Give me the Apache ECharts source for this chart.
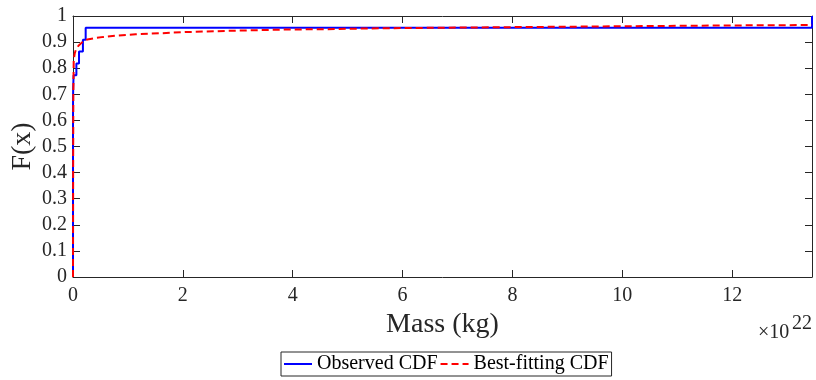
<!DOCTYPE html>
<html>
<head>
<meta charset="utf-8">
<script src="https://cdn.jsdelivr.net/npm/echarts@6/dist/echarts.min.js"></script>
<style>
  html, body { margin: 0; padding: 0; background: #fff; }
  #chart { width: 816px; height: 380px; }
</style>
</head>
<body>
<div id="chart"></div>
<script>
// Observed masses, in units of 1e22 kg (22 bodies)
const observedMass = [
  0.0000001, 0.0000005, 0.0000008, 0.000002, 0.000004, 0.0000007,
  0.0000066, 0.000011, 0.000014, 0.000016, 0.000053, 0.00019,
  0.00056, 0.00083, 0.00375, 0.0000495,
  0.0108, 0.0617, 0.1095, 0.1806, 0.2306, 13.452
];

// Best-fitting CDF, sampled along the mass axis (units of 1e22 kg)
const fittedMass = [0, 0.003, 0.006, 0.013, 0.03, 0.049, 0.1, 0.17, 0.26, 0.41, 0.56,
  0.8, 1.14, 1.6, 2.05, 2.96, 3.87, 4.78, 5.57, 6.7, 7.77, 8.7, 9.59, 10.8, 12.0, 13.452];
const fittedF = [0, 0.45, 0.7, 0.83, 0.855, 0.869, 0.886, 0.900, 0.910, 0.916, 0.920,
  0.925, 0.930, 0.934, 0.9385, 0.9438, 0.948, 0.950, 0.953, 0.955, 0.957, 0.9585, 0.960, 0.962, 0.9638, 0.9655];

const xTicks = [0, 2, 4, 6, 8, 10, 12];
const yTicks = [0, 0.1, 0.2, 0.3, 0.4, 0.5, 0.6, 0.7, 0.8, 0.9, 1];

const seriesNames = ['Observed CDF', 'Best-fitting CDF'];

// Empirical CDF staircase points from the sorted sample
const sorted = observedMass.slice().sort((a, b) => a - b);
const n = sorted.length;
const ecdf = [[sorted[0], 0]];
sorted.forEach((m, i) => ecdf.push([m, (i + 1) / n]));

const fitted = fittedMass.map((m, i) => [m, fittedF[i]]);
const xMax = sorted[n - 1];

const axisColor = '#262626';
const serif = 'Liberation Serif';

const chart = echarts.init(document.getElementById('chart'), null, { renderer: 'canvas' });

const xBase = {
  type: 'value', min: 0, max: xMax, interval: 2,
  axisLine: { show: true, onZero: false, lineStyle: { color: axisColor, width: 1 } },
  axisTick: { show: true, inside: true, length: 7, lineStyle: { color: axisColor } },
  splitLine: { show: false }
};
const yBase = {
  type: 'value', min: 0, max: 1, interval: 0.1,
  axisLine: { show: true, onZero: false, lineStyle: { color: axisColor, width: 1 } },
  axisTick: { show: true, inside: true, length: 7, lineStyle: { color: axisColor } },
  splitLine: { show: false }
};

const tickText = { fontFamily: serif, fontSize: 20, color: axisColor, fontWeight: 'normal' };

chart.setOption({
  animation: false,
  backgroundColor: '#fff',
  textStyle: { fontFamily: serif },
  grid: { left: 73, right: 4, top: 16, bottom: 103, containLabel: false, outerBoundsMode: 'none' },
  xAxis: [
    Object.assign({}, xBase, {
      position: 'bottom',
      name: 'Mass (kg)', nameLocation: 'middle', nameGap: 34, nameMoveOverlap: false,
      nameTextStyle: { fontFamily: serif, fontSize: 28, color: axisColor },
      axisLabel: Object.assign({
        margin: 9,
        formatter: v => (xTicks.indexOf(v) >= 0 ? String(v) : '')
      }, tickText)
    }),
    Object.assign({}, xBase, { position: 'top', axisLabel: { show: false } })
  ],
  yAxis: [
    Object.assign({}, yBase, {
      position: 'left',
      name: 'F(x)', nameLocation: 'middle', nameGap: 36, nameMoveOverlap: false,
      nameTextStyle: { fontFamily: serif, fontSize: 28, color: axisColor },
      axisLabel: Object.assign({
        margin: 6,
        formatter: v => {
          const t = yTicks.find(k => Math.abs(k - v) < 1e-9);
          return t === undefined ? '' : String(t);
        }
      }, tickText)
    }),
    Object.assign({}, yBase, { position: 'right', axisLabel: { show: false } })
  ],
  legend: {
    data: seriesNames,
    left: 281, top: 352,
    orient: 'horizontal',
    itemWidth: 28, itemHeight: 14, itemGap: 2,
    padding: [2, 3, 2, 2],
    borderColor: '#262626', borderWidth: 1, backgroundColor: '#fff',
    itemStyle: { opacity: 0 },
    textStyle: { fontFamily: serif, fontSize: 20, color: '#000' }
  },
  graphic: [
    {
      type: 'text', left: 758, top: 323,
      style: { text: '×10', fontFamily: serif, fontSize: 20, fill: axisColor }
    },
    {
      type: 'text', left: 792, top: 314,
      style: { text: '22', fontFamily: serif, fontSize: 20, fill: axisColor }
    }
  ],
  series: [
    {
      name: seriesNames[0], type: 'line', step: 'end',
      data: ecdf, symbol: 'none', clip: false,
      lineStyle: { color: '#0000ff', width: 2 },
      itemStyle: { color: '#0000ff' }
    },
    {
      name: seriesNames[1], type: 'line', smooth: false,
      data: fitted, symbol: 'none', clip: false,
      lineStyle: { color: '#ff0000', width: 2, type: [7, 4] },
      itemStyle: { color: '#ff0000' }
    }
  ]
});
</script>
</body>
</html>
